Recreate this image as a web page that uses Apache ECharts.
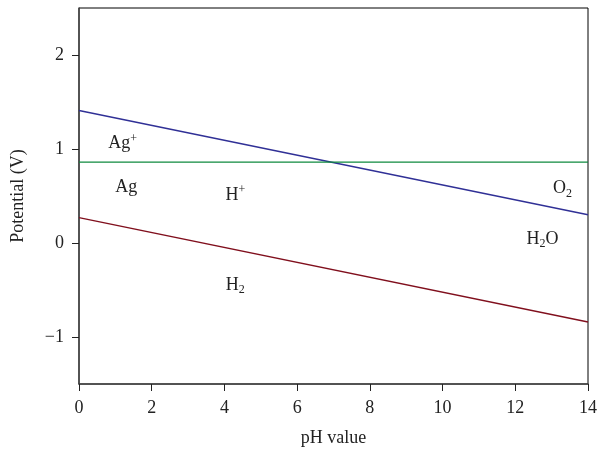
<!DOCTYPE html>
<html><head><meta charset="utf-8">
<script src="https://cdn.jsdelivr.net/npm/echarts@6/dist/echarts.min.js"></script>
<style>html,body{margin:0;padding:0;background:#fff}#c{width:600px;height:455px}</style>
</head><body><div id="c"></div>
<script>
const xTicks = [0, 2, 4, 6, 8, 10, 12, 14];
const yTicks = [-1, 0, 1, 2];
const o2Line = [[0, 1.41], [14, 0.30]];
const agLine = [[0, 0.86], [14, 0.86]];
const h2Line = [[0, 0.27], [14, -0.84]];
const labelNames = ['Ag+', 'Ag', 'H+', 'H2', 'O2', 'H2O'];
const labelPos = [[1.2, 1.06], [1.3, 0.59], [4.3, 0.51], [4.3, -0.45], [13.3, 0.58], [12.75, 0.04]];
const labelRich = {
  'Ag+': '{n|Ag}{sup|+}',
  'Ag': '{n|Ag}',
  'H+': '{n|H}{sup|+}',
  'H2': '{n|H}{sub|2}',
  'O2': '{n|O}{sub|2}',
  'H2O': '{n|H}{sub|2}{n|O}'
};
const FONT = 'Liberation Serif';
const TXT = '#222';
const chart = echarts.init(document.getElementById('c'));
const fmt = v => String(v).replace('-', '\u2212');
chart.setOption({
  animation: false,
  backgroundColor: '#fff',
  grid: {left: 79, right: 11, top: 8, bottom: 71, show: true, borderColor: '#000', borderWidth: 1},
  xAxis: {
    type: 'value', min: 0, max: 14, interval: 2,
    name: 'pH value', nameLocation: 'middle', nameGap: 45,
    nameTextStyle: {fontFamily: FONT, fontSize: 18, color: TXT},
    axisLine: {show: true, onZero: false, lineStyle: {color: '#444', width: 1.5}},
    axisTick: {show: true, length: 7, customValues: xTicks, lineStyle: {color: '#222'}},
    axisLabel: {fontFamily: FONT, fontSize: 18, color: TXT, margin: 15, customValues: xTicks, formatter: fmt},
    splitLine: {show: false}
  },
  yAxis: {
    type: 'value', min: -1.5, max: 2.5, interval: 0.5,
    name: 'Potential (V)', nameLocation: 'middle', nameGap: 52,
    nameTextStyle: {fontFamily: FONT, fontSize: 18, color: TXT},
    axisLine: {show: true, onZero: false, lineStyle: {color: '#444', width: 1.5}},
    axisTick: {show: true, length: 7, customValues: yTicks, lineStyle: {color: '#222'}},
    axisLabel: {fontFamily: FONT, fontSize: 18, color: TXT, margin: 15, customValues: yTicks, formatter: fmt},
    splitLine: {show: false}
  },
  series: [
    {type: 'line', data: o2Line, symbol: 'none', lineStyle: {color: '#303096', width: 1.4}},
    {type: 'line', data: agLine, symbol: 'none', lineStyle: {color: '#0e8a3e', width: 1.4}},
    {type: 'line', data: h2Line, symbol: 'none', lineStyle: {color: '#800f1d', width: 1.4}},
    {type: 'scatter', symbolSize: 0, itemStyle: {opacity: 1},
     data: labelNames.map((n, i) => ({value: labelPos[i], name: n})),
     label: {show: true, position: 'inside', color: TXT, opacity: 1, textBorderWidth: 0,
       formatter: p => labelRich[p.name],
       rich: {
         n: {fontFamily: FONT, fontSize: 18, color: TXT, lineHeight: 22, textBorderWidth: 0},
         sup: {fontFamily: FONT, fontSize: 12, color: TXT, lineHeight: 12, verticalAlign: 'top', textBorderWidth: 0},
         sub: {fontFamily: FONT, fontSize: 12, color: TXT, lineHeight: 12, verticalAlign: 'bottom', textBorderWidth: 0}
       }}}
  ]
});
</script></body></html>
